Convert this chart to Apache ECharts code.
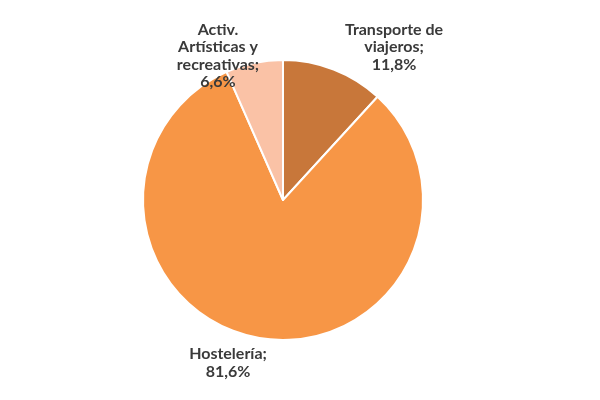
<!DOCTYPE html>
<html><head><meta charset="utf-8">
<script src="https://cdn.jsdelivr.net/npm/echarts@6/dist/echarts.min.js"></script>
<style>html,body{margin:0;padding:0;background:#fff}#c{width:600px;height:400px}</style>
</head><body><div id="c"></div>
<script>
const categories = ['Transporte de\nviajeros', 'Hostelería', 'Activ.\nArtísticas y\nrecreativas'];
const values = [11.8, 81.6, 6.6];
const colors = ['#C8773A', '#F79646', '#FAC2A6'];
const labelPos = [[394, 47], [228, 363], [218, 56]];

const chart = echarts.init(document.getElementById('c'), null, {renderer: 'canvas'});
chart.setOption({
  animation: false,
  series: [{
    type: 'pie',
    center: [283, 200],
    radius: 140,
    startAngle: 90,
    clockwise: true,
    data: categories.map((n, i) => ({name: n, value: values[i], itemStyle: {color: colors[i]}})),
    itemStyle: {borderColor: '#fff', borderWidth: 2},
    label: {
      show: true,
      position: 'outside',
      formatter: p => p.name + ';\n' + p.value.toFixed(1).replace('.', ',') + '%',
      fontFamily: 'Lato',
      fontWeight: 'bold',
      fontSize: 16,
      lineHeight: 17.5,
      color: '#3a3a3a',
      align: 'center'
    },
    labelLine: {show: false},
    labelLayout: p => ({x: labelPos[p.dataIndex][0], y: labelPos[p.dataIndex][1], align: 'center', verticalAlign: 'middle'})
  }]
});
</script></body></html>
